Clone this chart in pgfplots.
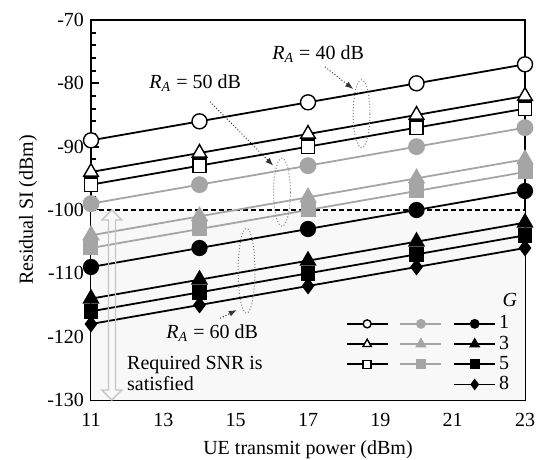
\documentclass[border=0pt]{standalone}
\usepackage{fontspec}
\setmainfont{Liberation Serif}
\usepackage{pgfplots}
\pgfplotsset{compat=1.18}
\usetikzlibrary{calc,arrows.meta}
\definecolor{mgray}{RGB}{165,165,165}
\definecolor{okfill}{RGB}{248,248,248}

\pgfplotsset{
  s40/.style={black, line width=0.9pt, mark options={solid, fill=white, draw=black, line width=0.7pt}},
  s50/.style={mgray, line width=0.9pt, mark options={solid, fill=mgray, draw=mgray}},
  s60/.style={black, line width=0.9pt, mark options={solid, fill=black, draw=black}},
}

\begin{document}
\fontsize{10}{12}\selectfont
\begin{tikzpicture}
\begin{axis}[
  scale only axis, width=217pt, height=190pt,
  xmin=11, xmax=23, ymin=-130, ymax=-70,
  xtick={11,13,...,23}, ytick={-130,-120,...,-70},
  minor x tick num=1, minor y tick num=4,
  tick pos=left, tick align=inside,
  major tick length=4pt, minor tick length=2.5pt,
  every tick/.style={black, line width=0.9pt},
  axis line style={line width=0.8pt},
  /pgf/number format/assume math mode=true,
  xticklabel style={yshift=-3pt},
  xlabel={UE transmit power (dBm)},
  ylabel={Residual SI (dBm)},
  every axis x label/.style={at={(axis description cs:0.5,-0.1316)}, anchor=center},
  every axis y label/.style={at={(axis description cs:-0.145,0.5)}, anchor=center, rotate=90},
  legend columns=3,
  legend style={at={(rel axis cs:0.985,0.0)}, anchor=south east, draw=none, fill=none,
    nodes={inner sep=1.5pt}, row sep=-1pt,
    /tikz/every even column/.append style={column sep=2.5pt}},
  legend image code/.code={\draw[mark repeat=2,mark phase=2] plot coordinates {(0cm,0cm) (0.36cm,0cm) (0.72cm,0cm)};},
]
% region where required SNR is met
\fill[okfill] (axis cs:11,-130) rectangle (axis cs:23,-100);
\draw[line width=0.6pt, dash pattern=on 2.5pt off 1.5pt] (axis cs:11,-100) -- (axis cs:23,-100);

% R_A = 40 dB
\addplot[s40, mark=*, mark size=3.75pt, forget plot] coordinates {(11,-89) (14,-86) (17,-83) (20,-80) (23,-77)};
\addplot[s40, mark=square*, mark size=3.3pt, forget plot] coordinates {(11,-96) (14,-93) (17,-90) (20,-87) (23,-84)};
\addplot[s40, mark=triangle*, mark size=4.2pt, forget plot] coordinates {(11,-94) (14,-91) (17,-88) (20,-85) (23,-82)};
% R_A = 50 dB
\addplot[s50, mark=*, mark size=3.75pt, forget plot] coordinates {(11,-99) (14,-96) (17,-93) (20,-90) (23,-87)};
\addplot[s50, mark=square*, mark size=3.3pt, forget plot] coordinates {(11,-106) (14,-103) (17,-100) (20,-97) (23,-94)};
\addplot[s50, mark=triangle*, mark size=4.2pt, forget plot] coordinates {(11,-104) (14,-101) (17,-98) (20,-95) (23,-92)};
% R_A = 60 dB
\addplot[s60, mark=*, mark size=3.6pt, forget plot] coordinates {(11,-109) (14,-106) (17,-103) (20,-100) (23,-97)};
\addplot[s60, mark=diamond*, mark size=3.5pt, forget plot] coordinates {(11,-118) (14,-115) (17,-112) (20,-109) (23,-106)};
\addplot[s60, mark=square*, mark size=3.2pt, forget plot] coordinates {(11,-116) (14,-113) (17,-110) (20,-107) (23,-104)};
\addplot[s60, mark=triangle*, mark size=4.1pt, forget plot] coordinates {(11,-114) (14,-111) (17,-108) (20,-105) (23,-102)};

% legend
\addlegendimage{s40, mark=*, mark size=2pt}\addlegendentry{}
\addlegendimage{s50, mark=*, mark size=2pt}\addlegendentry{}
\addlegendimage{s60, mark=*, mark size=2pt}\addlegendentry{1}
\addlegendimage{s40, mark=triangle*, mark size=2.4pt}\addlegendentry{}
\addlegendimage{s50, mark=triangle*, mark size=2.4pt}\addlegendentry{}
\addlegendimage{s60, mark=triangle*, mark size=2.4pt}\addlegendentry{3}
\addlegendimage{s40, mark=square*, mark size=2pt}\addlegendentry{}
\addlegendimage{s50, mark=square*, mark size=2pt}\addlegendentry{}
\addlegendimage{s60, mark=square*, mark size=2pt}\addlegendentry{5}
\addlegendimage{empty legend}\addlegendentry{}
\addlegendimage{empty legend}\addlegendentry{}
\addlegendimage{s60, mark=diamond*, mark size=2.2pt}\addlegendentry{8}
\node[font=\itshape] at (rel axis cs:0.965,0.262) {G};

% annotations
\draw[gray, densely dotted, line width=0.5pt] (axis cs:18.48,-84.8) ellipse [x radius=4.2pt, y radius=17pt];
\draw[gray, densely dotted, line width=0.5pt] (axis cs:16.28,-97.2) ellipse [x radius=4.2pt, y radius=17pt];
\draw[gray, densely dotted, line width=0.5pt] (axis cs:15.30,-109.6) ellipse [x radius=4.2pt, y radius=21.2pt];
\draw[black!80, densely dotted, line width=0.5pt, -{Latex[length=4pt,width=3pt]}] (axis cs:17.47,-77.4) -- (axis cs:18.25,-80.9);
\draw[black!80, densely dotted, line width=0.5pt, -{Latex[length=4pt,width=3pt]}] (axis cs:14.29,-82.9) -- (axis cs:16.04,-93.0);
\draw[black!80, densely dotted, line width=0.5pt, -{Latex[length=4pt,width=3pt]}] (axis cs:14.57,-117.1) -- (axis cs:15.03,-115.8);
\node at (axis cs:17.28,-75.4) {\textit{R}\textsubscript{\textit{A}} = 40 dB};
\node at (axis cs:13.88,-79.9) {\textit{R}\textsubscript{\textit{A}} = 50 dB};
\node at (axis cs:14.35,-119.4) {\textit{R}\textsubscript{\textit{A}} = 60 dB};

% double arrow
\coordinate (T) at (axis cs:11.58,-100);
\coordinate (B) at (axis cs:11.58,-130);
\draw[gray!45, line width=0.7pt] (T) -- ($(T)+(5pt,-5pt)$) -- ($(T)+(1.75pt,-5pt)$) -- ($(B)+(1.75pt,5pt)$) -- ($(B)+(5pt,5pt)$) -- (B)
  -- ($(B)+(-5pt,5pt)$) -- ($(B)+(-1.75pt,5pt)$) -- ($(T)+(-1.75pt,-5pt)$) -- ($(T)+(-5pt,-5pt)$) -- cycle;
\node[anchor=west, align=left, inner sep=0pt, font=\fontsize{10}{10.7}\selectfont] at (axis cs:11.99,-125.8) {Required SNR is\\satisfied};

\coordinate (sw) at (rel axis cs:0,0);
\coordinate (ne) at (rel axis cs:1,1);
\end{axis}
\pgfresetboundingbox
\path ($(sw)+(-45.5pt,-29.5pt)$) rectangle ($(ne)+(7pt,10pt)$);
\end{tikzpicture}
\end{document}
